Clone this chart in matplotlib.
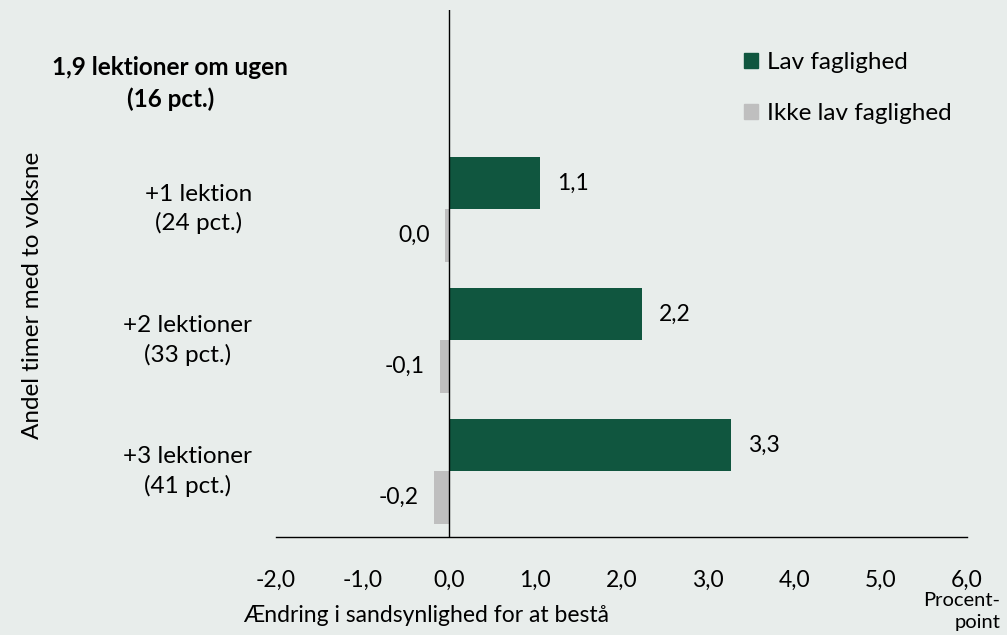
import matplotlib
matplotlib.use("Agg")
import matplotlib.pyplot as plt
from matplotlib.patches import Patch
from matplotlib.transforms import blended_transform_factory

plt.rcParams['font.family'] = ['Lato', 'DejaVu Sans']

categories = ["1,9 lektioner om ugen\n(16 pct.)", "+1 lektion\n(24 pct.)",
              "+2 lektioner\n(33 pct.)", "+3 lektioner\n(41 pct.)"]
lav = [None, 1.06, 2.24, 3.27]
ikke_lav = [None, -0.04, -0.1, -0.17]
series_names = ["Lav faglighed", "Ikke lav faglighed"]
xticks = [-2, -1, 0, 1, 2, 3, 4, 5, 6]

green = "#10563F"
grey = "#BFBFBF"
bg = "#E8EDEB"

W, H = 1007, 635
fig = plt.figure(figsize=(W / 100, H / 100), dpi=100, facecolor=bg)
ax = fig.add_axes([276 / W, 1 - 537 / H, (967 - 276) / W, (537 - 10) / H])
ax.set_facecolor(bg)

def fmt(v):
    s = f"{v:.1f}"
    if s == "-0.0":
        s = "0.0"
    return s.replace(".", ",")

h = 0.4
for i in range(len(categories)):
    if lav[i] is not None:
        ax.barh(i - h / 2, lav[i], height=h, color=green, zorder=2)
        ax.annotate(fmt(lav[i]), (lav[i], i - h / 2), xytext=(12, 0),
                    textcoords="offset points", ha="left", va="center", fontsize=16.5)
    if ikke_lav[i] is not None:
        ax.barh(i + h / 2, ikke_lav[i], height=h, color=grey, zorder=2)
        ax.annotate(fmt(ikke_lav[i]), (ikke_lav[i], i + h / 2), xytext=(-11, 0),
                    textcoords="offset points", ha="right", va="center", fontsize=16.5)

ax.axvline(0, color="black", lw=1, zorder=3)
ax.set_xlim(-2, 6)
ax.set_ylim(3.5, -0.52)
ax.set_xticks(xticks)
ax.set_xticklabels([fmt(t) for t in xticks], fontsize=16.5)
ax.tick_params(axis="x", length=0, pad=24)
ax.set_yticks([])
for s in ["top", "right", "left"]:
    ax.spines[s].set_visible(False)
ax.spines["bottom"].set_linewidth(1)

tr = blended_transform_factory(ax.transAxes, ax.transData)
ax.text(-0.153, 0.04, categories[0], transform=tr, ha="center", va="center",
        fontsize=17.5, fontweight="bold", linespacing=1.45)
for i in range(1, len(categories)):
    ax.text(-0.035, i, categories[i], transform=tr, ha="right", va="center",
            multialignment="center", fontsize=17.5, linespacing=1.4)

fig.text(33 / W, 1 - 295 / H, "Andel timer med to voksne", rotation=90,
         ha="center", va="center", fontsize=17.5)
fig.text(243 / W, 1 - 615 / H, "Ændring i sandsynlighed for at bestå",
         ha="left", va="center", fontsize=16.5)
fig.text(1000 / W, 1 - 592 / H, "Procent-\npoint", ha="right", va="top",
         multialignment="right", fontsize=14.5, linespacing=1.35)

handles = [Patch(color=green), Patch(color=grey)]
leg = ax.legend(handles, series_names, loc="upper left",
                bbox_to_anchor=(722 / W, 1 - 30 / H), bbox_transform=fig.transFigure,
                frameon=False, fontsize=17.5, handlelength=0.6, handleheight=0.6,
                handletextpad=0.35, labelspacing=1.25)

fig.savefig("out.png", dpi=100, facecolor=bg)
